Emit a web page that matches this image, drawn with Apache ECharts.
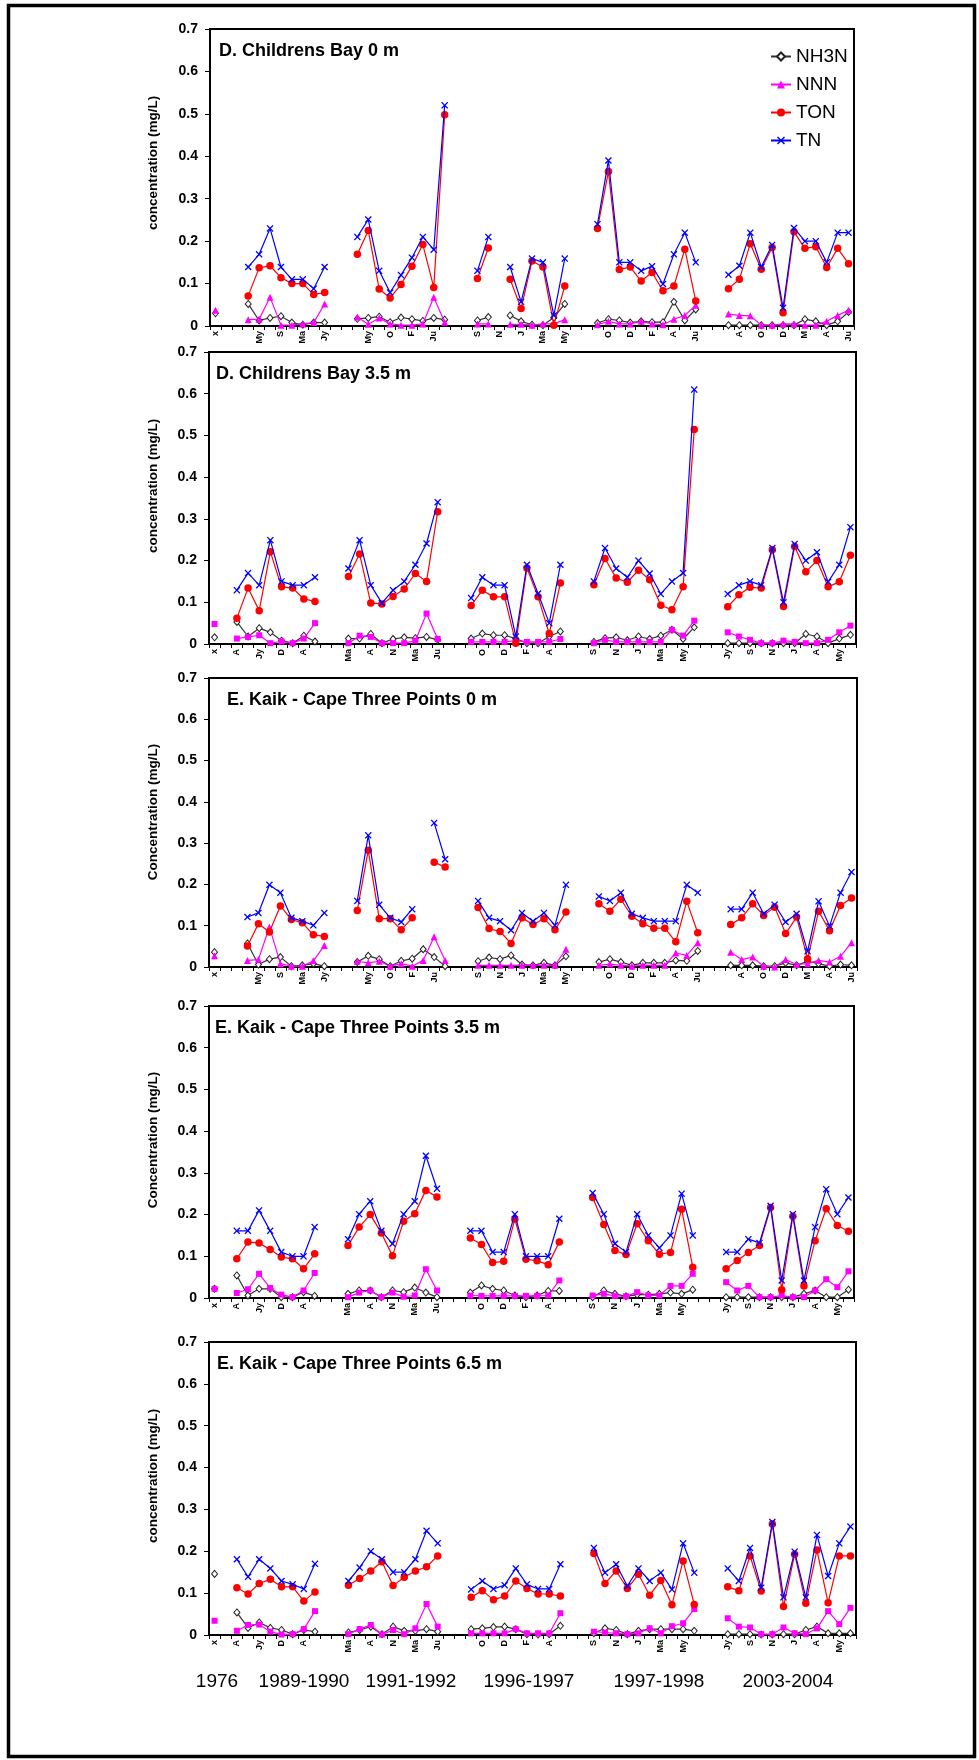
<!DOCTYPE html>
<html>
<head>
<meta charset="utf-8">
<script src="https://cdn.jsdelivr.net/npm/echarts@6/dist/echarts.min.js"></script>
<style>
  html, body { margin: 0; padding: 0; background: #fff; }
  #chart { width: 979px; height: 1760px; }
</style>
</head>
<body>
<div id="chart"></div>
<script>
// Month tick labels (every second category is labelled; gaps separate sampling periods)
const ticksA = ['x','','','','My','','S','','Ma','','Jy','','','','My','','O','','F','','Ju','','','','S','','N','','J','','Ma','','My','','','','O','','D','','F','','A','','Ju','','','','A','','O','','D','','M','','A','','Ju'];
const ticksB = ['x','','A','','Jy','','D','','A','','','','Ma','','A','','N','','Ma','','Ju','','','','O','','D','','F','','A','','','','S','','N','','J','','Ma','','My','','','','Jy','','S','','N','','J','','A','','My',''];

const yTicks = [0, 0.1, 0.2, 0.3, 0.4, 0.5, 0.6, 0.7];
const periods = ['1976', '1989-1990', '1991-1992', '1996-1997', '1997-1998', '2003-2004'];
const seriesNames = ['NH3N', 'NNN', 'TON', 'TN'];

// D. Childrens Bay 0 m
const cb0_NH3N = [0.030,null,null,0.052,0.013,0.019,0.023,0.008,0.003,0.008,0.008,null,null,0.017,0.019,0.022,0.009,0.020,0.016,0.012,0.019,0.015,null,null,0.013,0.021,null,0.025,0.011,0.003,0.002,0.020,0.052,null,null,0.007,0.016,0.013,0.008,0.011,0.009,0.009,0.057,0.013,0.039,null,null,0.002,0.002,0.002,0.002,0.002,0.002,0.002,0.016,0.011,0.002,0.011,0.033];
const cb0_NNN  = [0.037,null,null,0.015,0.016,0.068,0.002,0.002,0.005,0.008,0.052,null,null,0.021,0.004,0.019,0.005,0.002,0.002,0.005,0.068,0.009,null,null,0.005,0.005,null,0.004,0.004,0.002,0.005,0.005,0.015,null,null,0.003,0.011,0.005,0.005,0.011,0.005,0.003,0.016,0.025,0.049,null,null,0.028,0.025,0.024,0.002,0.002,0.005,0.005,0.002,0.002,0.011,0.025,0.037];
const cb0_TON  = [null,null,null,0.071,0.137,0.142,0.114,0.100,0.100,0.074,0.079,null,null,0.169,0.225,0.087,0.066,0.098,0.141,0.192,0.091,0.498,null,null,0.112,0.184,null,0.110,0.041,0.153,0.139,0.002,0.094,null,null,0.230,0.364,0.133,0.139,0.106,0.126,0.083,0.094,0.181,0.059,null,null,0.088,0.110,0.194,0.134,0.185,0.031,0.222,0.183,0.187,0.138,0.183,0.147];
const cb0_TN   = [null,null,null,0.139,0.169,0.230,0.139,0.110,0.110,0.088,0.139,null,null,0.210,0.251,0.130,0.079,0.120,0.161,0.210,0.180,0.520,null,null,0.130,0.210,null,0.139,0.057,0.159,0.150,0.025,0.159,null,null,0.240,0.390,0.150,0.150,0.130,0.141,0.099,0.169,0.220,0.150,null,null,0.121,0.142,0.220,0.139,0.191,0.043,0.231,0.200,0.200,0.150,0.220,0.220];

// D. Childrens Bay 3.5 m
const cb35_NH3N = [0.016,null,0.053,0.018,0.038,0.028,0.008,0.002,0.020,0.006,null,null,0.013,0.013,0.024,0.002,0.012,0.016,0.014,0.017,0.010,null,null,0.013,0.025,0.021,0.021,0.013,0.002,0.002,0.018,0.030,null,null,0.005,0.014,0.016,0.009,0.018,0.012,0.020,0.034,0.012,0.040,null,null,0.002,0.002,0.002,0.002,0.002,0.002,0.002,0.024,0.018,0.002,0.013,0.022];
const cb35_NNN  = [0.048,null,0.013,0.017,0.021,0.002,0.006,0.002,0.013,0.050,null,null,0.002,0.020,0.017,0.002,0.002,0.002,0.008,0.073,0.012,null,null,0.005,0.005,0.005,0.005,0.008,0.005,0.005,0.005,0.012,null,null,0.002,0.010,0.005,0.005,0.005,0.005,0.005,0.034,0.020,0.056,null,null,0.028,0.018,0.010,0.002,0.002,0.008,0.005,0.002,0.002,0.010,0.028,0.044];
const cb35_TON  = [null,null,0.062,0.134,0.080,0.221,0.137,0.134,0.108,0.102,null,null,0.162,0.216,0.098,0.096,0.114,0.132,0.169,0.150,0.317,null,null,0.092,0.129,0.113,0.113,0.002,0.182,0.113,0.025,0.146,null,null,0.142,0.205,0.158,0.148,0.177,0.154,0.093,0.082,0.137,0.514,null,null,0.089,0.118,0.136,0.134,0.226,0.090,0.234,0.173,0.200,0.137,0.149,0.213];
const cb35_TN   = [null,null,0.129,0.170,0.141,0.249,0.150,0.141,0.141,0.160,null,null,0.181,0.249,0.141,0.098,0.129,0.150,0.190,0.241,0.340,null,null,0.110,0.160,0.141,0.141,0.018,0.190,0.121,0.050,0.190,null,null,0.150,0.230,0.181,0.160,0.200,0.169,0.120,0.150,0.170,0.610,null,null,0.120,0.141,0.150,0.141,0.230,0.100,0.240,0.200,0.220,0.149,0.190,0.280];

// E. Kaik - Cape Three Points 0 m
const kk0_NH3N = [0.036,null,null,0.057,0.006,0.019,0.024,0.002,0.004,0.008,0.002,null,null,0.012,0.027,0.019,0.002,0.015,0.020,0.043,0.024,0.002,null,null,0.014,0.023,0.019,0.028,0.006,0.004,0.010,0.004,0.026,null,null,0.012,0.019,0.012,0.004,0.010,0.010,0.010,0.016,0.015,0.039,null,null,0.004,0.004,0.004,0.002,0.002,0.010,0.004,0.014,0.008,0.002,0.006,0.004];
const kk0_NNN  = [0.027,null,null,0.016,0.018,0.097,0.008,0.002,0.002,0.015,0.052,null,null,0.014,0.010,0.014,0.002,0.008,0.002,0.016,0.073,0.016,null,null,0.004,0.004,0.004,0.004,0.004,0.004,0.004,0.004,0.043,null,null,0.004,0.007,0.004,0.002,0.004,0.004,0.004,0.034,0.028,0.059,null,null,0.036,0.018,0.024,0.002,0.000,0.018,0.006,0.008,0.016,0.012,0.026,0.059];
const kk0_TON  = [null,null,null,0.051,0.105,0.085,0.148,0.115,0.107,0.078,0.074,null,null,0.137,0.283,0.117,0.117,0.090,0.119,null,0.254,0.242,null,null,0.144,0.093,0.086,0.057,0.119,0.103,0.117,0.090,0.133,null,null,0.153,0.135,0.164,0.123,0.105,0.094,0.094,0.061,0.159,0.083,null,null,0.103,0.119,0.153,0.125,0.145,0.081,0.121,0.020,0.135,0.088,0.149,0.167];
const kk0_TN   = [null,null,null,0.121,0.131,0.199,0.180,0.119,0.111,0.101,0.131,null,null,0.160,0.319,0.151,0.119,0.109,0.140,null,0.349,0.261,null,null,0.160,0.119,0.111,0.089,0.131,0.111,0.131,0.101,0.199,null,null,0.171,0.160,0.180,0.129,0.119,0.111,0.111,0.111,0.199,0.180,null,null,0.140,0.140,0.180,0.129,0.151,0.109,0.129,0.038,0.159,0.099,0.180,0.230];

// E. Kaik - Cape Three Points 3.5 m
const kk35_NH3N = [0.022,null,0.054,0.006,0.022,0.022,0.002,0.002,0.014,0.005,null,null,0.010,0.018,0.018,0.002,0.018,0.014,0.025,0.013,0.002,null,null,0.013,0.030,0.022,0.018,0.006,0.002,0.006,0.017,0.017,null,null,0.002,0.018,0.010,0.004,0.008,0.008,0.010,0.013,0.010,0.020,null,null,0.002,0.002,0.002,0.002,0.002,0.002,0.002,0.010,0.018,0.002,0.002,0.020];
const kk35_NNN  = [0.022,null,0.012,0.021,0.058,0.024,0.008,0.002,0.018,0.060,null,null,0.002,0.013,0.018,0.002,0.013,0.003,0.006,0.069,0.018,null,null,0.006,0.005,0.005,0.005,0.005,0.005,0.005,0.006,0.042,null,null,0.006,0.010,0.005,0.004,0.014,0.006,0.006,0.029,0.029,0.058,null,null,0.038,0.018,0.029,0.002,0.002,0.006,0.002,0.002,0.018,0.045,0.026,0.064];
const kk35_TON  = [null,null,0.094,0.134,0.132,0.116,0.098,0.094,0.070,0.106,null,null,0.126,0.170,0.200,0.156,0.101,0.184,0.202,0.258,0.242,null,null,0.144,0.128,0.085,0.088,0.189,0.093,0.089,0.080,0.134,null,null,0.241,0.176,0.114,0.104,0.178,0.137,0.105,0.109,0.213,0.074,null,null,0.070,0.090,0.109,0.126,0.217,0.020,0.196,0.029,0.137,0.214,0.174,0.160];
const kk35_TN   = [null,null,0.161,0.161,0.210,0.161,0.110,0.100,0.100,0.170,null,null,0.141,0.201,0.232,0.161,0.130,0.201,0.232,0.341,0.262,null,null,0.161,0.161,0.110,0.110,0.201,0.100,0.100,0.100,0.190,null,null,0.252,0.201,0.130,0.110,0.201,0.150,0.120,0.150,0.250,0.150,null,null,0.110,0.110,0.141,0.132,0.221,0.042,0.201,0.042,0.170,0.261,0.201,0.241];

// E. Kaik - Cape Three Points 6.5 m
const kk65_NH3N = [0.146,null,0.054,0.017,0.030,0.017,0.012,0.002,0.012,0.008,null,null,0.006,0.012,0.020,0.002,0.020,0.010,0.010,0.014,0.008,null,null,0.014,0.016,0.019,0.020,0.014,0.002,0.001,0.002,0.022,null,null,0.004,0.016,0.012,0.002,0.010,0.014,0.014,0.014,0.014,0.010,null,null,0.002,0.002,0.002,0.001,0.001,0.002,0.002,0.012,0.020,0.004,0.004,0.004];
const kk65_NNN  = [0.034,null,0.010,0.024,0.025,0.008,0.001,0.002,0.014,0.057,null,null,0.002,0.014,0.024,0.001,0.012,0.002,0.016,0.074,0.020,null,null,0.004,0.004,0.004,0.004,0.014,0.004,0.004,0.004,0.052,null,null,0.008,0.006,0.004,0.002,0.004,0.016,0.004,0.021,0.028,0.062,null,null,0.040,0.020,0.018,0.002,0.002,0.018,0.004,0.002,0.016,0.057,0.026,0.065];
const kk65_TON  = [null,null,0.113,0.098,0.123,0.133,0.115,0.115,0.081,0.103,null,null,0.119,0.135,0.153,0.175,0.118,0.138,0.153,0.163,0.189,null,null,0.090,0.106,0.084,0.093,0.129,0.111,0.098,0.098,0.093,null,null,0.195,0.123,0.153,0.111,0.145,0.095,0.130,0.072,0.177,0.073,null,null,0.115,0.106,0.189,0.105,0.265,0.068,0.193,0.076,0.203,0.077,0.189,0.189];
const kk65_TN   = [null,null,0.181,0.139,0.181,0.159,0.129,0.121,0.110,0.170,null,null,0.129,0.161,0.200,0.181,0.150,0.150,0.181,0.249,0.219,null,null,0.109,0.129,0.110,0.119,0.159,0.121,0.110,0.110,0.169,null,null,0.208,0.149,0.169,0.117,0.159,0.129,0.149,0.109,0.219,0.149,null,null,0.159,0.129,0.208,0.113,0.270,0.090,0.199,0.090,0.239,0.141,0.219,0.259];

const FONT = 'Arial, "Liberation Sans", Helvetica, sans-serif';

const panels = [
  { title: 'D. Childrens Bay 0 m', titleX: 219, yName: 'concentration (mg/L)', ticks: ticksA, nnnSymbol: 'triangle',
    data: [cb0_NH3N, cb0_NNN, cb0_TON, cb0_TN],
    grid: { left: 210, top: 29, width: 644, height: 297 } },
  { title: 'D. Childrens Bay 3.5 m', titleX: 216, yName: 'concentration (mg/L)', ticks: ticksB, nnnSymbol: 'rect',
    data: [cb35_NH3N, cb35_NNN, cb35_TON, cb35_TN],
    grid: { left: 209, top: 352, width: 647, height: 292 } },
  { title: 'E. Kaik - Cape Three Points 0 m', titleX: 227, yName: 'Concentration (mg/L)', ticks: ticksA, nnnSymbol: 'triangle',
    data: [kk0_NH3N, kk0_NNN, kk0_TON, kk0_TN],
    grid: { left: 209, top: 678, width: 648, height: 289 } },
  { title: 'E. Kaik - Cape Three Points 3.5 m', titleX: 215, yName: 'Concentration (mg/L)', ticks: ticksB, nnnSymbol: 'rect',
    data: [kk35_NH3N, kk35_NNN, kk35_TON, kk35_TN],
    grid: { left: 209, top: 1006, width: 645, height: 292 } },
  { title: 'E. Kaik - Cape Three Points 6.5 m', titleX: 217, yName: 'concentration (mg/L)', ticks: ticksB, nnnSymbol: 'rect',
    data: [kk65_NH3N, kk65_NNN, kk65_TON, kk65_TN],
    grid: { left: 209, top: 1342, width: 647, height: 293 } }
];

// filled "x" marker for total nitrogen
const CROSS = 'path://M0,1.3L1.3,0L5,3.7L8.7,0L10,1.3L6.3,5L10,8.7L8.7,10L5,6.3L1.3,10L0,8.7L3.7,5Z';

function styleFor(name, nnnSymbol) {
  switch (name) {
    case 'NH3N': return { symbol: 'diamond', symbolSize: [6, 7], line: '#333333',
      item: { color: '#ffffff', borderColor: '#222222', borderWidth: 1 } };
    case 'NNN': return { symbol: nnnSymbol, symbolSize: nnnSymbol === 'rect' ? 6 : 7, line: '#ff00ff',
      item: { color: '#ff00ff' } };
    case 'TON': return { symbol: 'circle', symbolSize: 7.5, line: '#ff0000', item: { color: '#ff0000' } };
    default: return { symbol: CROSS, symbolSize: 7, line: '#0000ff', item: { color: '#0000ff' } };
  }
}

const grids = [], xAxes = [], yAxes = [], series = [], graphics = [];

panels.forEach((p, i) => {
  grids.push(Object.assign({ show: true, borderColor: '#000', borderWidth: 2, backgroundColor: 'transparent' }, p.grid));
  xAxes.push({
    type: 'category', gridIndex: i, data: p.ticks, boundaryGap: true,
    axisLine: { lineStyle: { color: '#000', width: 2 } },
    axisTick: { show: true, interval: 0, length: 4, lineStyle: { color: '#000', width: 1 } },
    axisLabel: { interval: 0, rotate: 90, margin: 5, fontSize: 9, fontWeight: 'bold', color: '#000', fontFamily: FONT },
    splitLine: { show: false }
  });
  yAxes.push({
    type: 'value', gridIndex: i, min: yTicks[0], max: yTicks[yTicks.length - 1], interval: 0.1,
    axisLine: { show: true, lineStyle: { color: '#000', width: 2 } },
    axisTick: { show: true, length: 5, lineStyle: { color: '#000', width: 1 } },
    splitLine: { show: false },
    axisLabel: { margin: 12, fontSize: 14, fontWeight: 'bold', color: '#000', fontFamily: FONT,
      formatter: v => (v === 0 ? '0' : v.toFixed(1)) }
  });
  seriesNames.forEach((name, k) => {
    const s = styleFor(name, p.nnnSymbol);
    series.push({
      type: 'line', name: name, xAxisIndex: i, yAxisIndex: i, data: p.data[k],
      symbol: s.symbol, symbolSize: s.symbolSize, showAllSymbol: true, connectNulls: false,
      lineStyle: { color: s.line, width: 1.2 }, itemStyle: s.item,
      emphasis: { disabled: true }, z: 2 + k
    });
  });
  const g = p.grid;
  graphics.push({
    type: 'text', left: p.titleX, top: g.top + 13,
    style: { text: p.title, font: 'bold 18px ' + FONT, fill: '#000' }
  });
  graphics.push({
    type: 'text', x: 153, y: g.top + 134, rotation: Math.PI / 2,
    style: { text: p.yName, font: 'bold 13.5px ' + FONT, fill: '#000',
      textAlign: 'center', textVerticalAlign: 'middle', align: 'center', verticalAlign: 'middle' }
  });
});

// period captions under the bottom panel
const periodX = [217, 304, 411, 529, 659, 788];
periods.forEach((t, i) => {
  graphics.push({
    type: 'text', x: periodX[i], y: 1682,
    style: { text: t, font: '19px ' + FONT, fill: '#000',
      textAlign: 'center', textVerticalAlign: 'middle', align: 'center', verticalAlign: 'middle' }
  });
});

// outer frame
graphics.push({
  type: 'rect', shape: { x: 8.5, y: 5.5, width: 966, height: 1751 },
  style: { fill: 'none', stroke: '#000', lineWidth: 3.5 }, z: 100
});

const chart = echarts.init(document.getElementById('chart'), null, { renderer: 'canvas' });
chart.setOption({
  animation: false,
  backgroundColor: '#fff',
  textStyle: { fontFamily: FONT },
  grid: grids,
  xAxis: xAxes,
  yAxis: yAxes,
  legend: {
    data: seriesNames, orient: 'vertical', left: 765, top: 42,
    itemWidth: 20, itemHeight: 10, itemGap: 9, selectedMode: false,
    textStyle: { fontSize: 19, color: '#000', fontFamily: FONT }
  },
  series: series,
  graphic: graphics
});
</script>
</body>
</html>
